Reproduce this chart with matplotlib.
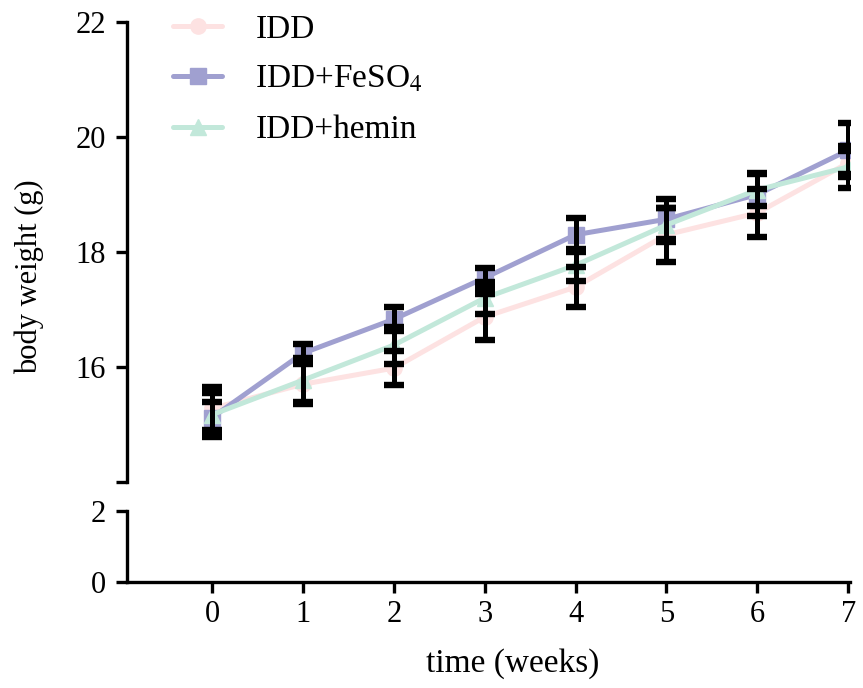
import matplotlib

matplotlib.use("Agg")
import matplotlib.pyplot as plt
import numpy as np

plt.rcParams["font.family"] = ["Liberation Serif", "DejaVu Serif"]
plt.rcParams["mathtext.fontset"] = "stix"

weeks = [0, 1, 2, 3, 4, 5, 6, 7]
labels = ["IDD", "IDD+FeSO$_4$", "IDD+hemin"]
idd_mean = [15.28, 15.70, 15.98, 16.87, 17.39, 18.30, 18.68, 19.55]
idd_err = [0.37, 0.35, 0.30, 0.40, 0.35, 0.47, 0.42, 0.20]
feso4_mean = [15.12, 16.24, 16.83, 17.55, 18.30, 18.57, 19.00, 19.77]
feso4_err = [0.28, 0.16, 0.21, 0.18, 0.30, 0.35, 0.38, 0.47]
hemin_mean = [15.17, 15.77, 16.38, 17.20, 17.77, 18.47, 19.08, 19.48]
hemin_err = [0.38, 0.38, 0.32, 0.28, 0.28, 0.30, 0.28, 0.36]

series = [
    (idd_mean, idd_err, "#FDE2E2", "o"),
    (feso4_mean, feso4_err, "#A0A0D0", "s"),
    (hemin_mean, hemin_err, "#C2E8DA", "^"),
]

W, H = 863, 688
fig = plt.figure(figsize=(W / 100, H / 100), dpi=100)
left, right = 127 / W, 850 / W
ax_top = fig.add_axes([left, 1 - 482 / H, right - left, (482 - 22) / H])
ax_bot = fig.add_axes([left, 1 - 582 / H, right - left, (582 - 511) / H])

xlim = (-0.935, 7.02)
handles = []
for mean, err, col, mk in series:
    (h,) = ax_top.plot(weeks, mean, color=col, lw=3.6, marker=mk, ms=11,
                       mec=col, mfc=col, zorder=2, solid_capstyle="round")
    handles.append(h)
for mean, err, col, mk in series:
    ax_top.errorbar(weeks, mean, yerr=err, fmt="none", ecolor="black",
                    elinewidth=3.6, capsize=7.5, capthick=4.6, zorder=3)

for ax in (ax_top, ax_bot):
    ax.set_xlim(*xlim)
    for s in ("top", "right"):
        ax.spines[s].set_visible(False)
    ax.spines["left"].set_linewidth(2.4)
    ax.spines["bottom"].set_linewidth(2.4)
    ax.tick_params(axis="both", width=2.4, length=8, labelsize=22, pad=4,
                   colors="black")
    ax.tick_params(axis="y", pad=7)

ax_top.spines["bottom"].set_visible(False)
ax_top.set_ylim(14, 22)
ax_top.set_yticks([14, 16, 18, 20, 22])
ax_top.set_yticklabels(["", "16", "18", "20", "22"])
ax_top.set_xticks([])

ax_bot.set_ylim(0, 2)
ax_bot.set_yticks([0, 2])
ax_bot.set_xticks(weeks)
ax_bot.tick_params(axis="x", pad=5)

fig.text(29 / W, 1 - 277 / H, "body weight (g)", rotation=90,
         ha="center", va="center", fontsize=22)
fig.text(513 / W, 1 - 664 / H, "time (weeks)", ha="center", va="center",
         fontsize=24)

fig.legend(handles, labels, loc="upper left",
           bbox_to_anchor=(173 / W, 1 - 14 / H), frameon=False, fontsize=24,
           handlelength=1.47, handletextpad=1.0, labelspacing=0.6,
           borderpad=0, borderaxespad=0)

fig.savefig("out.png", dpi=100, facecolor="white")
